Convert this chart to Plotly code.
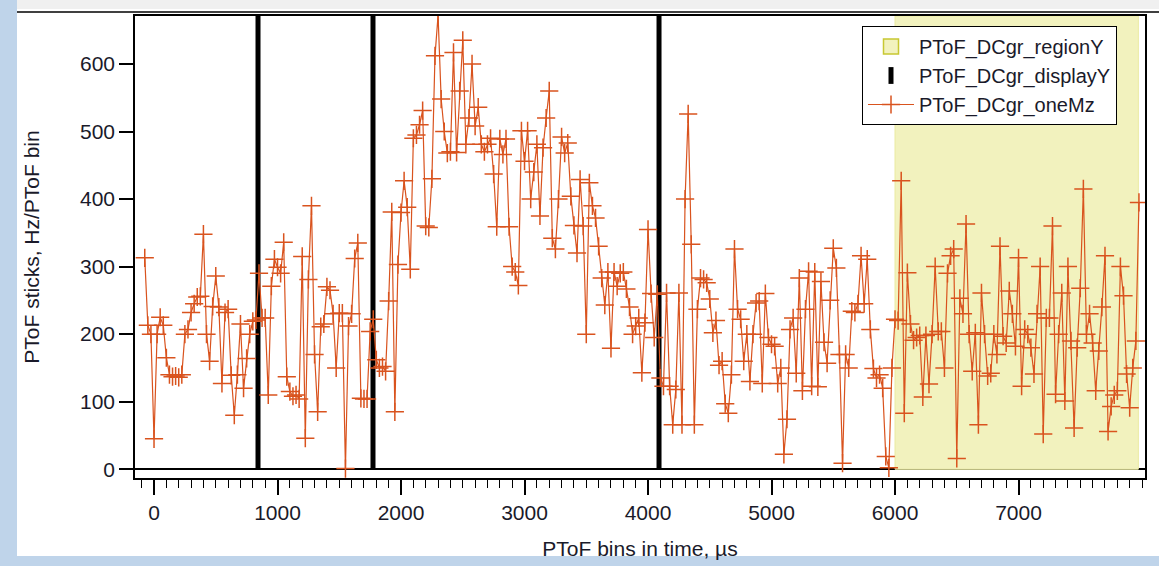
import plotly.graph_objects as go

# ---- data ----
x_start = -75
x_step = 25
one_mz = [
    313, 213, 200, 45, 200, 225, 213, 165, 140, 137,
    138, 136, 140, 200, 207, 232, 245, 255, 256, 348,
    200, 160, 241, 286, 240, 127, 232, 237, 139, 80,
    140, 215, 120, 164, 200, 219, 221, 290, 224, 224,
    110, 271, 311, 299, 290, 336, 137, 115, 108, 110,
    104, 315, 46, 281, 390, 170, 85, 211, 215, 270,
    265, 230, 150, 231, 231, 1, 212, 230, 312, 335,
    105, 104, 104, 204, 222, 162, 150, 152, 145, 249,
    381, 85, 303, 380, 427, 388, 296, 490, 495, 510,
    531, 360, 358, 430, 612, 672, 548, 500, 468, 470,
    617, 469, 560, 635, 481, 520, 600, 508, 536, 481,
    470, 481, 490, 437, 359, 489, 466, 489, 359, 300,
    292, 272, 501, 456, 501, 400, 440, 481, 375, 476,
    520, 560, 342, 326, 400, 492, 468, 483, 404, 361,
    320, 429, 360, 200, 424, 390, 372, 330, 283, 243,
    292, 179, 292, 271, 290, 292, 267, 240, 200, 212,
    224, 143, 217, 355, 260, 195, 259, 135, 123, 261,
    123, 66, 118, 261, 66, 400, 526, 333, 66, 237,
    283, 281, 276, 252, 202, 220, 154, 160, 97, 83,
    140, 326, 237, 222, 160, 200, 130, 200, 246, 249,
    127, 260, 195, 185, 182, 127, 150, 22, 74, 207,
    224, 142, 283, 116, 237, 293, 123, 292, 122, 278,
    188, 157, 250, 327, 298, 170, 9, 170, 150, 234,
    232, 245, 316, 245, 311, 207, 149, 135, 140, 120,
    19, 2, 150, 222, 220, 427, 83, 291, 215, 191,
    195, 198, 107, 198, 126, 200, 300, 204, 204, 150,
    290, 316, 326, 16, 253, 230, 363, 200, 145, 202,
    66, 261, 200, 138, 142, 200, 170, 330, 197, 187,
    264, 230, 182, 313, 123, 207, 200, 180, 141, 230,
    300, 52, 224, 224, 360, 111, 200, 261, 101, 300,
    190, 61, 180, 268, 415, 200, 230, 187, 116, 175,
    240, 316, 56, 93, 110, 116, 300, 257, 141, 91, 150, 190, 395,
]
x_bins = [x_start + i * x_step for i in range(len(one_mz))]

display_x = [842, 1773, 4089]
region_x = [6000, 7970]
y_top = 671
y_bottom = -13

x_ticks = [0, 1000, 2000, 3000, 4000, 5000, 6000, 7000]
y_ticks = [0, 100, 200, 300, 400, 500, 600]

ORANGE = "#D9531E"
FONT = "Liberation Sans, Arial, sans-serif"
FS = 21
TXT = "#1a1a2a"

fig = go.Figure()

# region (drawn) + legend proxy
fig.add_trace(go.Scatter(
    x=[region_x[0], region_x[1], region_x[1], region_x[0], region_x[0]],
    y=[0, 0, y_top, y_top, 0],
    fill="toself", mode="lines",
    fillcolor="#F2F2BE", line=dict(color="#EAEAA0", width=1),
    showlegend=False, legendgroup="reg", hoverinfo="skip",
))
fig.add_trace(go.Scatter(
    x=[None], y=[None], mode="markers",
    marker=dict(symbol="square", size=15, color="#F2F2BE", line=dict(color="#C8C832", width=1.5)),
    name="PToF_DCgr_regionY", legendgroup="reg",
))

# display lines
vx, vy = [], []
for d in display_x:
    vx += [d, d, None]
    vy += [0, y_top, None]
fig.add_trace(go.Scatter(
    x=vx, y=vy, mode="lines", line=dict(color="black", width=5),
    showlegend=False, legendgroup="disp", hoverinfo="skip",
))
fig.add_trace(go.Scatter(
    x=[None], y=[None], mode="markers",
    marker=dict(symbol="line-ns", size=12, line=dict(color="black", width=5)),
    name="PToF_DCgr_displayY", legendgroup="disp",
))

# data
fig.add_trace(go.Scatter(
    x=x_bins, y=one_mz, mode="lines+markers",
    line=dict(color=ORANGE, width=1.2),
    marker=dict(symbol="cross-thin", size=13, line=dict(color=ORANGE, width=1.5)),
    name="PToF_DCgr_oneMz",
))

# window decoration (paper coords relative to plot area)
L, R, T, B = 135, 1145, 16, 478
W, H = R - L, B - T
def px(X):
    return (X - L) / W
def py(Y):
    return (B - Y) / H

shapes = [
    dict(type="rect", xref="paper", yref="paper", x0=px(0), x1=px(17), y0=py(566), y1=py(0),
         fillcolor="#BFD4EA", line=dict(width=0), layer="below"),
    dict(type="rect", xref="paper", yref="paper", x0=px(0), x1=px(1159), y0=py(566), y1=py(556),
         fillcolor="#BFD4EA", line=dict(width=0), layer="below"),
    dict(type="rect", xref="paper", yref="paper", x0=px(17), x1=px(1159), y0=py(9), y1=py(0),
         fillcolor="#F0F0F0", line=dict(width=0), layer="below"),
    dict(type="line", xref="paper", yref="paper", x0=px(17), x1=px(1159), y0=py(12), y1=py(12),
         line=dict(color="black", width=1.5)),
]

fig.update_layout(
    width=1159, height=566,
    margin=dict(l=L, r=1159 - R, t=T, b=566 - B, autoexpand=False),
    paper_bgcolor="white", plot_bgcolor="white",
    font=dict(family=FONT, size=FS, color=TXT),
    shapes=shapes,
    showlegend=True,
    legend=dict(
        x=px(1117), y=py(26), xanchor="right", yanchor="top",
        bgcolor="white", bordercolor="black", borderwidth=1,
        font=dict(family=FONT, size=20, color=TXT),
        tracegroupgap=0, itemwidth=46,
    ),
    xaxis=dict(
        range=[-154, 8024], tickvals=x_ticks, ticktext=[str(t) for t in x_ticks],
        ticks="outside", ticklen=15, tickwidth=1.5, tickcolor="black",
        minor=dict(dtick=100, ticks="outside", ticklen=8, tickwidth=1.2, tickcolor="black"),
        showline=True, linecolor="black", linewidth=1.5, mirror=True,
        showgrid=False, zeroline=False, automargin=False,
        title=dict(text="PToF bins in time, µs", standoff=18, font=dict(size=FS)),
        tickfont=dict(size=FS),
    ),
    yaxis=dict(
        range=[y_bottom, y_top], tickvals=y_ticks,
        ticks="outside", ticklen=14, tickwidth=1.5, tickcolor="black",
        showline=True, linecolor="black", linewidth=1.5, mirror=True,
        showgrid=False, zeroline=True, zerolinecolor="black", zerolinewidth=1.5,
        automargin=False,
        title=dict(text="PToF sticks, Hz/PToF bin", standoff=35, font=dict(size=FS)),
        tickfont=dict(size=FS),
    ),
)

fig.write_html("out.html")
